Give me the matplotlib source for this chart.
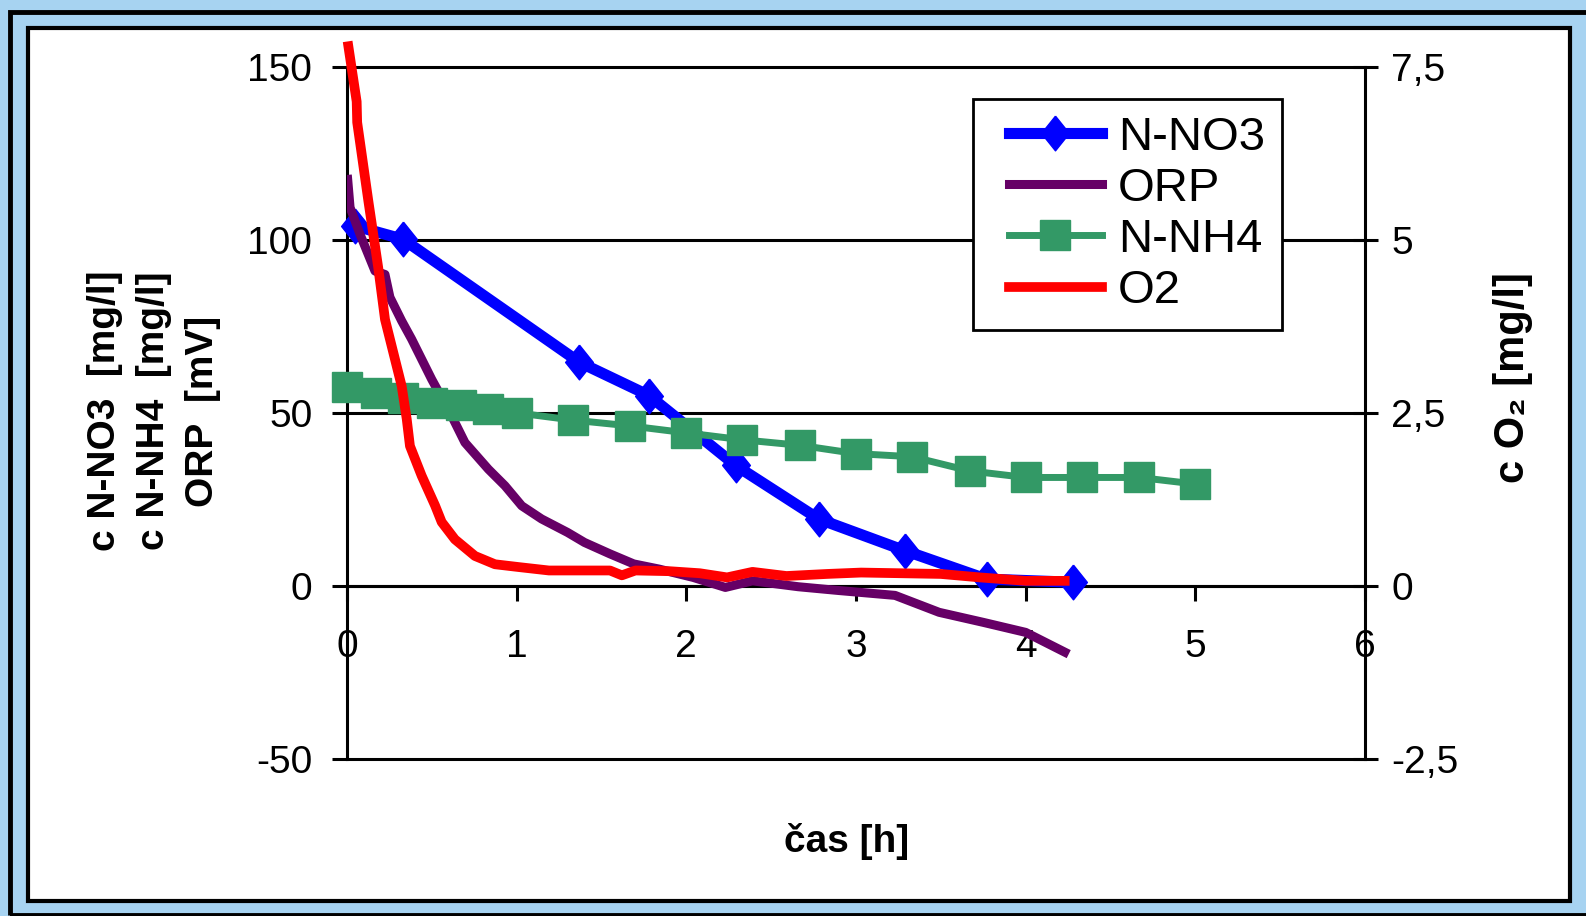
import numpy as np
import matplotlib.pyplot as plt
from matplotlib.patches import Rectangle
from matplotlib.legend_handler import HandlerLine2D

plt.rcParams['font.family'] = ['Liberation Sans', 'DejaVu Sans']

# casy [h] a namerane hodnoty
t_no3 = [0.05, 0.33, 1.37, 1.78, 2.29, 2.78, 3.29, 3.77, 4.28]
no3 = [104.0, 100.2, 64.6, 55.0, 34.8, 19.3, 10.1, 1.9, 1.0]

t_nh4 = [0.0, 0.17, 0.33, 0.5, 0.67, 0.83, 1.0, 1.33, 1.67, 2.0,
         2.33, 2.67, 3.0, 3.33, 3.67, 4.0, 4.33, 4.67, 5.0]
nh4 = [57.4, 55.7, 54.3, 52.9, 52.4, 51.0, 50.0, 47.9, 46.2, 44.2,
       42.2, 40.6, 38.2, 37.3, 33.2, 31.3, 31.3, 31.3, 29.4]

t_orp = [0.004, 0.018, 0.077, 0.165, 0.224, 0.253, 0.322, 0.381, 0.499, 0.617,
         0.695, 0.833, 0.931, 1.03, 1.147, 1.30, 1.40, 1.55, 1.69, 1.84,
         2.04, 2.23, 2.39, 2.66, 2.9, 3.23, 3.49, 3.75, 4.0, 4.23]
orp = [117.5, 109.4, 101.6, 91.0, 90.0, 83.4, 76.6, 71.3, 59.7, 49.1,
       41.4, 33.7, 28.9, 23.1, 19.3, 15.4, 12.5, 9.2, 6.3, 4.8,
       2.4, -0.5, 1.4, -0.3, -1.4, -2.8, -7.7, -10.6, -13.5, -19.2]

t_o2 = [0.008, 0.057, 0.06, 0.126, 0.184, 0.224, 0.322, 0.352, 0.371, 0.44,
        0.519, 0.558, 0.636, 0.754, 0.872, 1.01, 1.19, 1.40, 1.55, 1.62,
        1.70, 1.90, 2.08, 2.24, 2.39, 2.59, 2.83, 3.03, 3.5, 3.73, 4.0, 4.23]
o2 = [7.8, 7.0, 6.7, 5.56, 4.6, 3.85, 2.89, 2.41, 2.02, 1.59,
      1.16, 0.92, 0.67, 0.43, 0.31, 0.27, 0.22, 0.22, 0.22, 0.15,
      0.22, 0.21, 0.18, 0.12, 0.20, 0.14, 0.17, 0.19, 0.17, 0.12, 0.07, 0.07]

x_ticks = [0, 1, 2, 3, 4, 5, 6]
left_ticks = [-50, 0, 50, 100, 150]
right_ticks = [-2.5, 0, 2.5, 5, 7.5]
right_labels = ['-2,5', '0', '2,5', '5', '7,5']

W, H = 1586, 916
fig = plt.figure(figsize=(W / 100, H / 100), dpi=100, facecolor='#a7d3f1')

# ramecky kolem grafu
fig.patches.append(Rectangle((10 / W, 1 - 915 / H), 1590 / W, 903 / H,
                             transform=fig.transFigure, fill=False,
                             ec='black', lw=3.5, zorder=-2))
fig.patches.append(Rectangle((28 / W, 1 - 901 / H), 1542 / W, 873 / H,
                             transform=fig.transFigure, fc='white',
                             ec='black', lw=3, zorder=-1))

ax = fig.add_axes([347 / W, 1 - 758.6 / H, 1018 / W, 691.6 / H])
ax.set_xlim(0, 6)
ax.set_ylim(-50, 150)
ax.patch.set_alpha(0)
ax2 = ax.twinx()
ax2.set_ylim(-2.5, 7.5)

for s in ['top', 'right']:
    ax.spines[s].set_visible(False)
ax.spines['bottom'].set_position(('data', 0))
ax.spines['bottom'].set_linewidth(2.2)
ax.spines['left'].set_linewidth(2.2)
for s in ['top', 'left', 'bottom']:
    ax2.spines[s].set_visible(False)
ax2.spines['right'].set_linewidth(2.2)

for v in left_ticks:
    ax.axhline(v, color='black', lw=2.2, zorder=1, clip_on=False)

ax.set_xticks(x_ticks)
ax.set_xticklabels([str(v) for v in x_ticks])
ax.set_yticks(left_ticks)
ax.set_yticklabels([str(v) for v in left_ticks])
ax2.set_yticks(right_ticks)
ax2.set_yticklabels(right_labels)
ax.tick_params(axis='y', direction='out', length=11, width=2.2, pad=14, labelsize=28)
ax.tick_params(axis='x', direction='out', length=11, width=2.2, pad=20, labelsize=28)
ax2.tick_params(axis='y', direction='inout', length=18, width=2.2, pad=10, labelsize=28)

diamond = [(0, 1), (0.8, 0), (0, -1), (-0.8, 0), (0, 1)]
l1, = ax.plot(t_no3, no3, color='#0000ff', lw=8, marker=diamond, ms=25,
              label='N-NO3', zorder=3, clip_on=False)
l2, = ax.plot(t_orp, orp, color='#660066', lw=6.5, label='ORP', zorder=4)
l3, = ax.plot(t_nh4, nh4, color='#339966', lw=5, marker='s', ms=21,
              label='N-NH4', zorder=5, clip_on=False)
l4, = ax2.plot(t_o2, o2, color='#ff0000', lw=7, label='O2', clip_on=False)

hl = HandlerLine2D(xpad=0.4)
leg = ax2.legend([l1, l2, l3, l4], ['N-NO3', 'ORP', 'N-NH4', 'O2'],
                 loc='upper left', bbox_to_anchor=(0.615, 0.954),
                 borderaxespad=0, fontsize=34, fancybox=False, framealpha=1,
                 edgecolor='black', handlelength=2.37, handletextpad=0.34,
                 labelspacing=0.15, borderpad=0.36,
                 handler_map={l1: hl, l2: hl, l3: hl, l4: hl})
leg.get_frame().set_linewidth(2)

fig.text(154 / W, 1 - 411 / H, 'c N-NO3  [mg/l]\nc N-NH4  [mg/l]\nORP  [mV]',
         rotation=90, ha='center', va='center', multialignment='center',
         fontsize=28, fontweight='bold', linespacing=1.45)
fig.text(1513 / W, 1 - 378 / H, 'c O\u2082 [mg/l]', rotation=90,
         ha='center', va='center', fontsize=30, fontweight='bold')
fig.text(847 / W, 1 - 842 / H, 'čas [h]', ha='center', va='center',
         fontsize=28, fontweight='bold')

fig.savefig('out.png', dpi=100, facecolor=fig.get_facecolor())
